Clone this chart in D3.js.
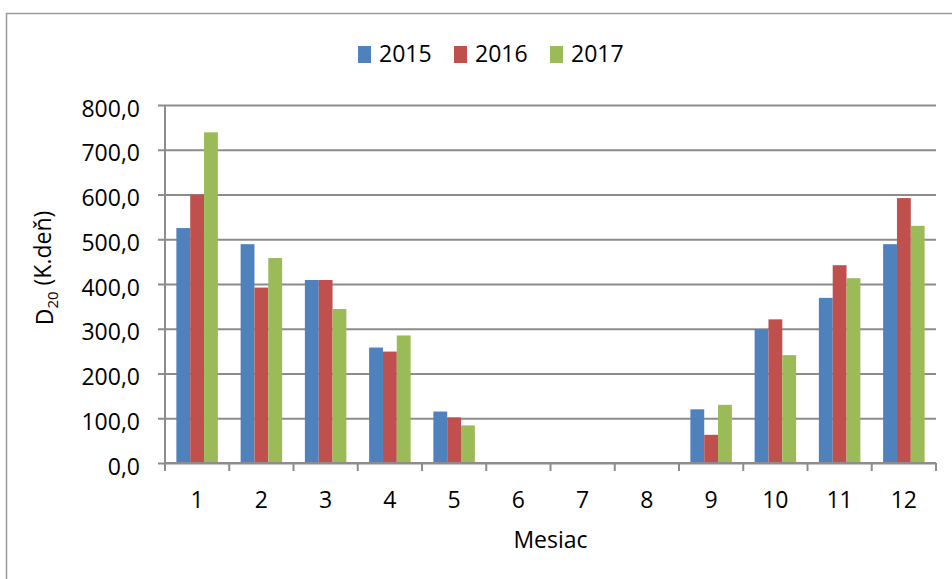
<html>
<head>
  <script src="https://d3js.org/d3.v7.min.js"></script>
  <style>
    body { margin: 0; background: #fff; }
    text { font-family: "Open Sans", "Liberation Sans", sans-serif; fill: #000; }
    .grid line { stroke: #8c8c8c; stroke-width: 2; }
    .grid .domain { stroke: none; }
  </style>
</head>
<body>
  <svg id="chart" width="952" height="579"></svg>
  <script>
    // data
    const months = ["1", "2", "3", "4", "5", "6", "7", "8", "9", "10", "11", "12"];
    const years = ["2015", "2016", "2017"];
    const values2015 = [525, 489, 409, 258, 115, 0, 0, 0, 120, 299, 369, 489];
    const values2016 = [600, 392, 409, 249, 102, 0, 0, 0, 63, 321, 442, 592];
    const values2017 = [739, 458, 344, 285, 84, 0, 0, 0, 130, 241, 413, 530];
    const yTicks = [0, 100, 200, 300, 400, 500, 600, 700, 800];

    const colors = { "2015": "#4f81bd", "2016": "#c0504d", "2017": "#9bbb59" };
    const series = { "2015": values2015, "2016": values2016, "2017": values2017 };

    let svg = d3.select("svg#chart");
    let margin = { top: 105, left: 165, bottom: 116, right: 16 };
    let chartWidth = svg.attr("width") - margin.left - margin.right;
    let chartHeight = svg.attr("height") - margin.top - margin.bottom;
    const fontSize = "23px";

    // outer chart border (right/bottom edges fall outside the picture)
    svg.append("rect")
      .attr("x", 6.5).attr("y", 13.5)
      .attr("width", 1000).attr("height", 1000)
      .attr("fill", "none")
      .attr("stroke", "#9a9a9a")
      .attr("stroke-width", 1.5);

    const yScale = d3.scaleLinear().domain([0, 800]).range([chartHeight, 0]);
    const xScale = d3.scaleBand().domain(months).range([0, chartWidth]);
    const bw = xScale.bandwidth();
    const innerGap = bw * 0.177;
    const x1 = d3.scaleBand().domain(years).range([innerGap, bw - innerGap]);

    // horizontal gridlines + y axis ticks
    let leftAxis = d3.axisLeft(yScale)
      .tickValues(yTicks)
      .tickSize(-chartWidth)
      .tickFormat(d => d3.format(".1f")(d).replace(".", ","));
    let gy = svg.append("g")
      .attr("class", "grid")
      .attr("transform", `translate(${margin.left},${margin.top})`)
      .call(leftAxis);
    gy.selectAll(".tick line").attr("x1", -7);
    gy.selectAll(".tick text")
      .attr("x", -25)
      .attr("dy", "0.48em")
      .style("font-size", fontSize)
      .style("font-family", "'Open Sans', sans-serif");

    let chartArea = svg.append("g")
      .attr("transform", `translate(${margin.left},${margin.top})`);

    years.forEach(yr => {
      chartArea.selectAll("rect.y" + yr)
        .data(series[yr])
        .join("rect")
        .attr("class", "y" + yr)
        .attr("x", (d, i) => xScale(months[i]) + x1(yr))
        .attr("y", d => yScale(d))
        .attr("width", x1.bandwidth())
        .attr("height", d => chartHeight - yScale(d))
        .attr("fill", colors[yr]);
    });

    // y axis line
    chartArea.append("line")
      .attr("x1", 0).attr("x2", 0)
      .attr("y1", 0).attr("y2", chartHeight)
      .attr("stroke", "#8c8c8c").attr("stroke-width", 2);

    // x axis line and ticks at category boundaries
    chartArea.append("line")
      .attr("x1", 0).attr("x2", chartWidth)
      .attr("y1", chartHeight).attr("y2", chartHeight)
      .attr("stroke", "#8c8c8c").attr("stroke-width", 2);
    const bounds = months.map(m => xScale(m)).concat([chartWidth]);
    chartArea.selectAll("line.xtick").data(bounds)
      .join("line")
      .attr("class", "xtick")
      .attr("x1", d => d).attr("x2", d => d)
      .attr("y1", chartHeight).attr("y2", chartHeight + 8)
      .attr("stroke", "#8c8c8c").attr("stroke-width", 2);

    chartArea.selectAll("text.xlab").data(months)
      .join("text")
      .attr("class", "xlab")
      .attr("x", d => xScale(d) + bw / 2)
      .attr("y", 508 - margin.top)
      .attr("text-anchor", "middle")
      .style("font-size", fontSize)
      .text(d => d);

    // X axis label
    svg.append("text")
      .attr("text-anchor", "middle")
      .attr("x", margin.left + chartWidth / 2)
      .attr("y", 548)
      .style("font-size", fontSize)
      .text("Mesiac");

    // Y axis label
    let yt = svg.append("text")
      .attr("text-anchor", "middle")
      .attr("transform", "translate(45,268) rotate(-90)")
      .attr("dy", "0.35em")
      .style("font-size", fontSize);
    yt.append("tspan").text("D");
    yt.append("tspan").attr("dy", "0.3em").style("font-size", "15px").text("20");
    yt.append("tspan").attr("dy", "-0.3em").text(" (K.deň)");

    // legend
    const legendX = [358, 454, 550];
    years.forEach((d, i) => {
      svg.append("rect")
        .attr("x", legendX[i])
        .attr("y", 46)
        .attr("width", 13)
        .attr("height", 17)
        .style("fill", colors[d]);
      svg.append("text")
        .attr("x", legendX[i] + 21)
        .attr("y", 62)
        .style("font-size", fontSize)
        .text(d);
    });
  </script>
</body>
</html>
